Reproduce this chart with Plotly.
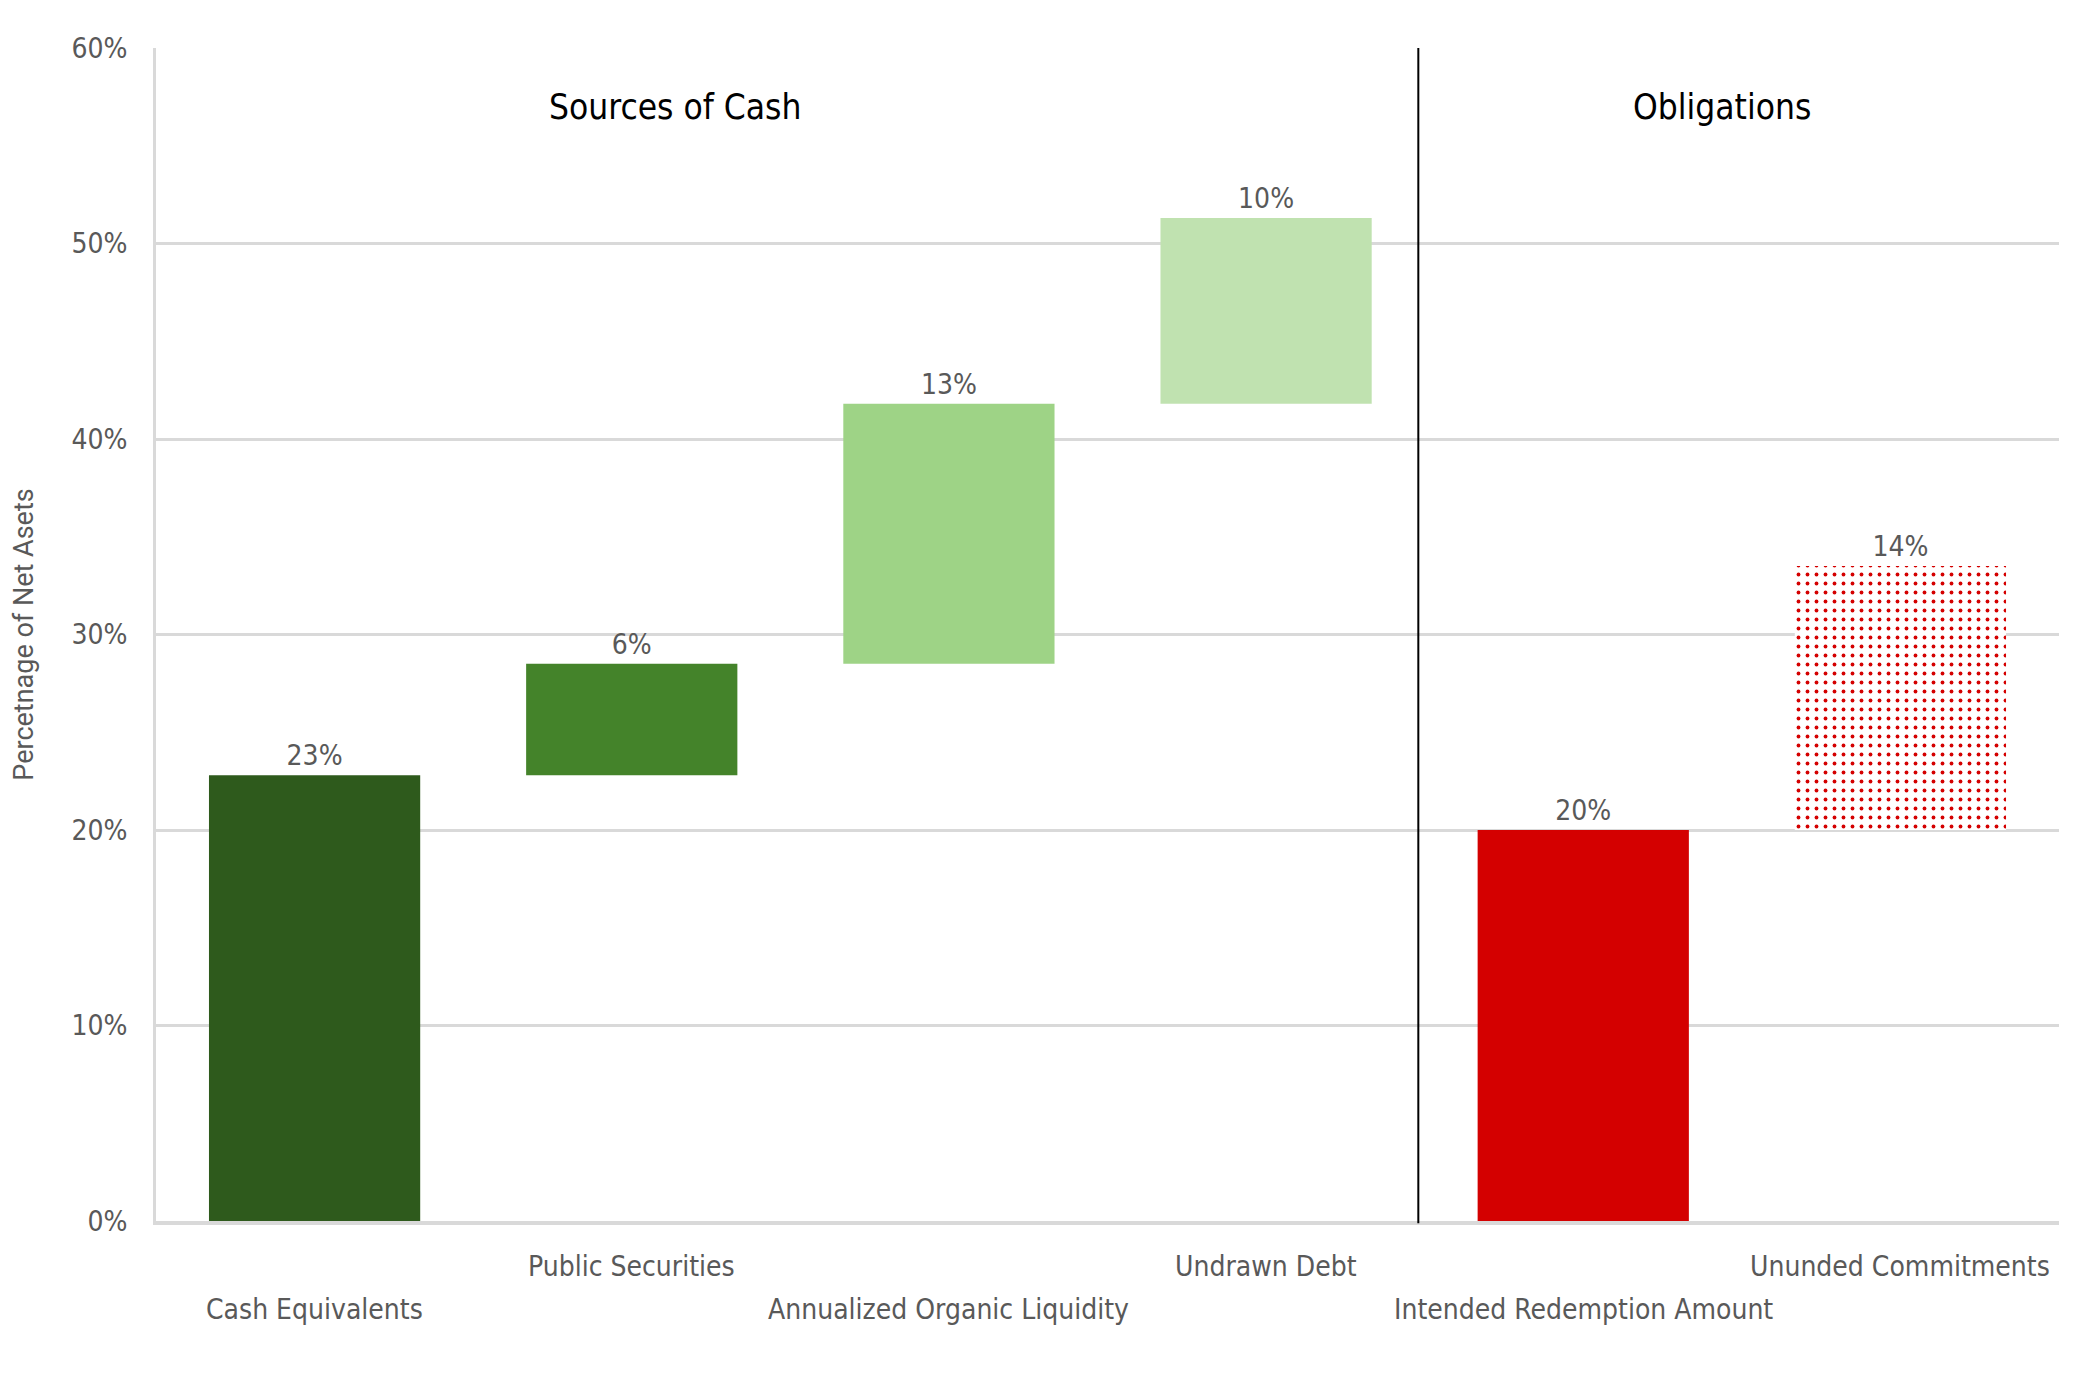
import plotly.graph_objects as go

categories = ["Cash Equivalents", "Public Securities", "Annualized Organic Liquidity",
              "Undrawn Debt", "Intended Redemption Amount", "Ununded Commitments"]
bases = [0, 22.8, 28.5, 41.8, 0, 20.0]
values = [22.8, 5.7, 13.3, 9.5, 20.0, 13.5]
value_labels = ["23%", "6%", "13%", "10%", "20%", "14%"]
bar_colors = ["#2e5a1c", "#44832a", "#9ed386", "#c0e2b0", "#d40000", "#ffffff"]
patterned = [False, False, False, False, False, True]
label_rows = [2, 1, 2, 1, 2, 1]
group_titles = ["Sources of Cash", "Obligations"]
y_ticks = [0, 10, 20, 30, 40, 50, 60]
y_tick_labels = ["0%", "10%", "20%", "30%", "40%", "50%", "60%"]

FONT = "Liberation Sans Narrow, DejaVu Sans Condensed, Roboto, sans-serif"
GRAY = "#595959"
RED = "#d40000"

solid_idx = [i for i, p in enumerate(patterned) if not p]
pat_idx = [i for i, p in enumerate(patterned) if p]

fig = go.Figure()
fig.add_trace(go.Bar(
    x=[categories[i] for i in solid_idx], y=[values[i] for i in solid_idx],
    base=[bases[i] for i in solid_idx],
    marker=dict(color=[bar_colors[i] for i in solid_idx], line=dict(width=0)),
    text=[value_labels[i] for i in solid_idx], textposition="outside", cliponaxis=False,
    textfont=dict(family=FONT, size=28, color=GRAY),
    width=0.666, hoverinfo="skip", showlegend=False,
))
fig.add_trace(go.Bar(
    x=[categories[i] for i in pat_idx], y=[values[i] for i in pat_idx],
    base=[bases[i] for i in pat_idx],
    marker=dict(color="white", line=dict(width=0),
                pattern=dict(shape=".", fgcolor=RED, bgcolor="white",
                             fillmode="replace", size=9, solidity=0.14)),
    text=[value_labels[i] for i in pat_idx], textposition="outside", cliponaxis=False,
    textfont=dict(family=FONT, size=28, color=GRAY),
    width=0.666, hoverinfo="skip", showlegend=False,
))

fig.add_shape(type="line", xref="x", yref="paper", x0=3.48, x1=3.48, y0=-0.002, y1=1,
              line=dict(color="black", width=2))

annotations = []
for cat, row in zip(categories, label_rows):
    annotations.append(dict(x=cat, xref="x", y=0, yref="paper", yanchor="middle",
                            yshift=-45 if row == 1 else -88, showarrow=False, text=cat,
                            font=dict(family=FONT, size=28, color=GRAY)))
for t, xp in zip(group_titles, [0.2725, 0.8227]):
    annotations.append(dict(x=xp, xref="paper", y=0.95, yref="paper", showarrow=False,
                            text=t, font=dict(family=FONT, size=35, color="black"),
                            xanchor="center", yanchor="middle"))

fig.update_layout(
    width=2096, height=1382,
    margin=dict(l=156, r=37, t=48, b=161),
    plot_bgcolor="white", paper_bgcolor="white",
    annotations=annotations,
    barmode="overlay",
    font=dict(family=FONT, color=GRAY),
)
fig.update_xaxes(showticklabels=False, showgrid=False, showline=True,
                 linecolor="#d9d9d9", linewidth=4, ticks="",
                 categoryorder="array", categoryarray=categories)
fig.update_yaxes(range=[0, 60], tickvals=y_ticks, ticktext=y_tick_labels,
                 showgrid=True, gridcolor="#d9d9d9", gridwidth=3,
                 showline=True, linecolor="#d9d9d9", linewidth=3, zeroline=False,
                 tickfont=dict(family=FONT, size=28, color=GRAY),
                 ticklabelstandoff=20,
                 title=dict(text="Percetnage of Net Asets", standoff=30,
                            font=dict(family="Roboto", size=27, color=GRAY)))

fig.write_html("out.html")
